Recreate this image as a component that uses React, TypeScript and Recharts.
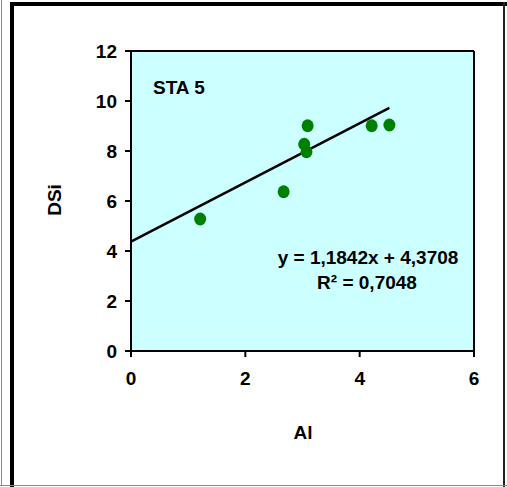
import { ScatterChart, Scatter, XAxis, YAxis, CartesianGrid, ReferenceLine } from "recharts"

const AL = [1.21, 2.67, 3.09, 3.03, 3.07, 4.21, 4.52]
const DSI = [5.28, 6.37, 9.01, 8.27, 7.97, 9.01, 9.04]
const X_TICKS = [0, 2, 4, 6]
const Y_TICKS = [0, 2, 4, 6, 8, 10, 12]
const SLOPE = 1.1842
const INTERCEPT = 4.3708
const TREND_X = [0, 4.52]

const FONT = "'Liberation Sans', Arial, sans-serif"

const Dot = (props: any) => {
  const { cx, cy } = props
  return <ellipse cx={cx} cy={cy} rx={6} ry={6.5} fill="#008000" />
}

export default function App() {
  const data = AL.map((x, i) => ({ x, y: DSI[i] }))
  const tick = { fill: "#000", fontSize: 19, fontWeight: "bold", fontFamily: FONT }
  const txt = { position: "absolute" as const, fontFamily: FONT, fontWeight: "bold", fontSize: 19, color: "#000", whiteSpace: "nowrap" as const }

  return (
    <div style={{ position: "absolute", left: 0, top: 0, width: 507, height: 487, background: "#fff" }}>
      {/* frame */}
      <div style={{ position: "absolute", left: 1, top: 0, width: 1, height: 485, background: "#888" }} />
      <div style={{ position: "absolute", left: 10, top: 2, width: 497, height: 4, background: "#000" }} />
      <div style={{ position: "absolute", left: 10, top: 2, width: 4, height: 485, background: "#000" }} />
      <div style={{ position: "absolute", left: 503, top: 2, width: 2, height: 485, background: "#222" }} />
      <div style={{ position: "absolute", left: 0, top: 485, width: 507, height: 1, background: "#888" }} />

      <div style={{ position: "absolute", left: 0, top: 0 }}>
        <ScatterChart width={507} height={487} margin={{ top: 51, right: 33, bottom: 76, left: 71 }}>
          <CartesianGrid horizontal={false} vertical={false} fill="#CCFFFF" fillOpacity={1} />
          <XAxis
            type="number"
            dataKey="x"
            domain={[0, 6]}
            ticks={X_TICKS}
            height={60}
            tickSize={6}
            tickMargin={15}
            tick={tick}
            axisLine={{ stroke: "#000", strokeWidth: 2 }}
            tickLine={{ stroke: "#000", strokeWidth: 2 }}
          />
          <YAxis
            type="number"
            dataKey="y"
            domain={[0, 12]}
            ticks={Y_TICKS}
            width={60}
            tickSize={6}
            tickMargin={8}
            tick={tick}
            axisLine={{ stroke: "#000", strokeWidth: 2 }}
            tickLine={{ stroke: "#000", strokeWidth: 2 }}
          />
          <ReferenceLine y={12} stroke="#000" strokeWidth={2} />
          <ReferenceLine x={6} stroke="#000" strokeWidth={2} />
          <Scatter data={data} shape={Dot} isAnimationActive={false} />
          <ReferenceLine
            segment={TREND_X.map((x) => ({ x, y: SLOPE * x + INTERCEPT }))}
            stroke="#000"
            strokeWidth={2.5}
          />
        </ScatterChart>
      </div>

      <div style={{ ...txt, left: 153, top: 77 }}>STA 5</div>
      <div style={{ ...txt, left: 368, top: 258, transform: "translate(-50%, -50%)" }}>y = 1,1842x + 4,3708</div>
      <div style={{ ...txt, left: 367, top: 283, transform: "translate(-50%, -50%)" }}>
        R² = 0,7048
      </div>
      <div style={{ ...txt, left: 303, top: 433, transform: "translate(-50%, -50%)" }}>Al</div>
      <div style={{ ...txt, left: 55, top: 200, transform: "translate(-50%, -50%) rotate(-90deg)" }}>DSi</div>
    </div>
  )
}
